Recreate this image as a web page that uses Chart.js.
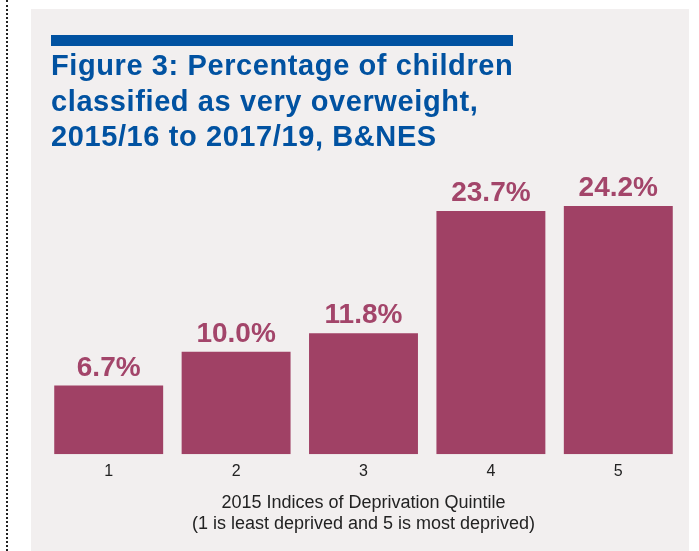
<!DOCTYPE html>
<html>
<head>
<meta charset="utf-8">
<script src="https://cdn.jsdelivr.net/npm/chart.js@4.4.1/dist/chart.umd.min.js"></script>
<style>
  html, body { margin: 0; padding: 0; background: #fff; }
  body { width: 699px; height: 551px; position: relative; overflow: hidden; font-family: "Liberation Sans", Arial, sans-serif; }
  .dots { position: absolute; left: 6px; top: 0; height: 551px; border-left: 2px dotted #222; }
  .panel { position: absolute; left: 31px; top: 9px; width: 658px; height: 542px; background: #f2efef; }
  .rule { position: absolute; left: 20px; top: 26px; width: 462px; height: 11px; background: #0152a1; }
  h1 { position: absolute; left: 20px; top: 39px; margin: 0; color: #0152a1; font-size: 29px; line-height: 35.5px; font-weight: bold; letter-spacing: 0.6px; }
  #chart { position: absolute; left: 0; top: 0; }
</style>
</head>
<body>
<div class="dots"></div>
<div class="panel">
  <canvas id="chart" width="658" height="542"></canvas>
  <div class="rule"></div>
  <h1>Figure 3: Percentage of children<br>classified as very overweight,<br>2015/16 to 2017/19, B&amp;NES</h1>
</div>
<script>
const quintiles = ["1", "2", "3", "4", "5"];
const veryOverweight = [6.7, 10.0, 11.8, 23.7, 24.2];
const axisTitle = ["2015 Indices of Deprivation Quintile", "(1 is least deprived and 5 is most deprived)"];

const barColour = "#a04165";

// value labels above each bar
const barValues = {
  id: "barValues",
  afterDatasetsDraw(chart) {
    const ctx = chart.ctx;
    const meta = chart.getDatasetMeta(0);
    ctx.save();
    ctx.font = "bold 28px 'Liberation Sans', Arial, sans-serif";
    ctx.fillStyle = "#a3456a";
    ctx.textAlign = "center";
    ctx.textBaseline = "alphabetic";
    meta.data.forEach((bar, i) => {
      const v = chart.data.datasets[0].data[i];
      ctx.fillText(v.toFixed(1) + "%", bar.x, bar.y - 10);
    });
    ctx.restore();
  }
};

new Chart(document.getElementById("chart"), {
  type: "bar",
  data: {
    labels: quintiles,
    datasets: [{
      data: veryOverweight,
      backgroundColor: barColour,
      barPercentage: 0.855,
      categoryPercentage: 1
    }]
  },
  options: {
    responsive: false,
    animation: false,
    layout: { padding: { left: 14, right: 7, top: 158, bottom: 16 } },
    plugins: { legend: { display: false }, tooltip: { enabled: false } },
    scales: {
      x: {
        grid: { display: false, drawTicks: false },
        border: { display: false },
        ticks: { color: "#222", font: { size: 16, family: "'Liberation Sans', Arial, sans-serif" }, padding: 8 },
        title: {
          display: true,
          text: axisTitle,
          color: "#222",
          font: { size: 18, family: "'Liberation Sans', Arial, sans-serif", lineHeight: 1.18 },
          padding: { top: 3, bottom: 0 }
        }
      },
      y: { display: false, min: 0, max: 28 }
    }
  },
  plugins: [barValues]
});
</script>
</body>
</html>
